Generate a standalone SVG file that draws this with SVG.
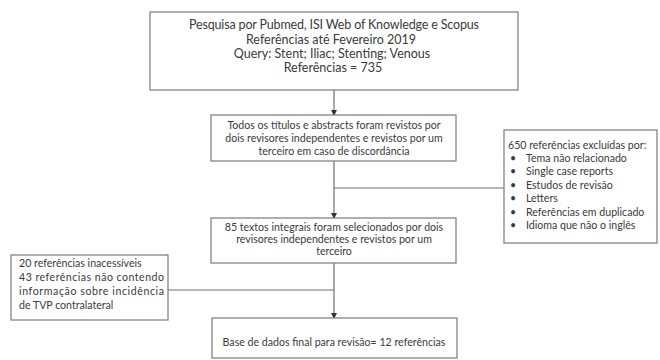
<svg xmlns="http://www.w3.org/2000/svg" width="660" height="360" viewBox="0 0 660 360">
<style>
.box{fill:#fff;stroke:#7a7a7a;stroke-width:1.2}
.t{font-family:Lato,"Open Sans","Liberation Sans",sans-serif;fill:#3a3a3a}
.big{font-size:12.5px}
.sm{font-size:10.6px}
.c{text-anchor:middle}
.ln{stroke:#6e6e6e;stroke-width:1.2;fill:none}
</style>
<defs>
<marker id="ah" markerWidth="6" markerHeight="6" refX="5" refY="3" orient="auto" markerUnits="userSpaceOnUse">
<path d="M0,0 L6,3 L0,6 z" fill="#333"/>
</marker>
</defs>
<rect width="660" height="360" fill="#fff"/>
<g id="connectors">
<line class="ln" x1="334" y1="90" x2="334" y2="115" marker-end="url(#ah)"/>
<line class="ln" x1="334" y1="161" x2="334" y2="218" marker-end="url(#ah)"/>
<line class="ln" x1="334" y1="188" x2="504" y2="188"/>
<line class="ln" x1="334" y1="263" x2="334" y2="318" marker-end="url(#ah)"/>
<line class="ln" x1="168" y1="290" x2="334" y2="290"/>
</g>
<g id="search">
<rect class="box" x="150" y="12" width="368" height="78"/>
<text class="t big c" x="334" y="29" textLength="290">Pesquisa por Pubmed, ISI Web of Knowledge e Scopus</text>
<text class="t big c" x="331" y="44">Referências até Fevereiro 2019</text>
<text class="t big c" x="332" y="58">Query: Stent; Iliac; Stenting; Venous</text>
<text class="t big c" x="333" y="72">Referências = 735</text>
</g>
<g id="screening">
<rect class="box" x="211" y="115" width="245" height="46"/>
<text class="t sm c" x="334" y="129">Todos os títulos e abstracts foram revistos por</text>
<text class="t sm c" x="334" y="142">dois revisores  independentes  e revistos por um</text>
<text class="t sm c" x="334" y="155">terceiro em caso de discordância</text>
</g>
<g id="excluded">
<rect class="box" x="504" y="130" width="153" height="113"/>
<text class="t sm" x="508" y="149">650 referências  excluídas por:</text>
<g class="t sm">
<text x="510" y="162">•</text><text x="526" y="162">Tema não relacionado</text>
<text x="510" y="175">•</text><text x="526" y="175">Single case reports</text>
<text x="510" y="189">•</text><text x="526" y="189">Estudos de revisão</text>
<text x="510" y="202">•</text><text x="526" y="202">Letters</text>
<text x="510" y="216">•</text><text x="526" y="216">Referências  em duplicado</text>
<text x="510" y="229">•</text><text x="526" y="229">Idioma que não o inglês</text>
</g>
</g>
<g id="fulltext">
<rect class="box" x="211" y="218" width="245" height="45"/>
<text class="t sm c" x="334" y="231">85 textos integrais foram selecionados por dois</text>
<text class="t sm c" x="334" y="243">revisores independentes e revistos por um</text>
<text class="t sm c" x="334" y="255">terceiro</text>
</g>
<g id="inaccessible">
<rect class="box" x="11" y="255" width="157" height="65"/>
<text class="t sm" x="19" y="267">20 referências  inacessíveis</text>
<text class="t sm" x="19" y="281" textLength="145">43 referências não contendo</text>
<text class="t sm" x="19" y="295" textLength="145">informação sobre incidência</text>
<text class="t sm" x="19" y="309">de TVP contralateral</text>
</g>
<g id="final">
<rect class="box" x="212" y="318" width="245" height="40"/>
<text class="t sm c" x="334" y="346">Base de dados final para revisão=  12 referências</text>
</g>
</svg>
